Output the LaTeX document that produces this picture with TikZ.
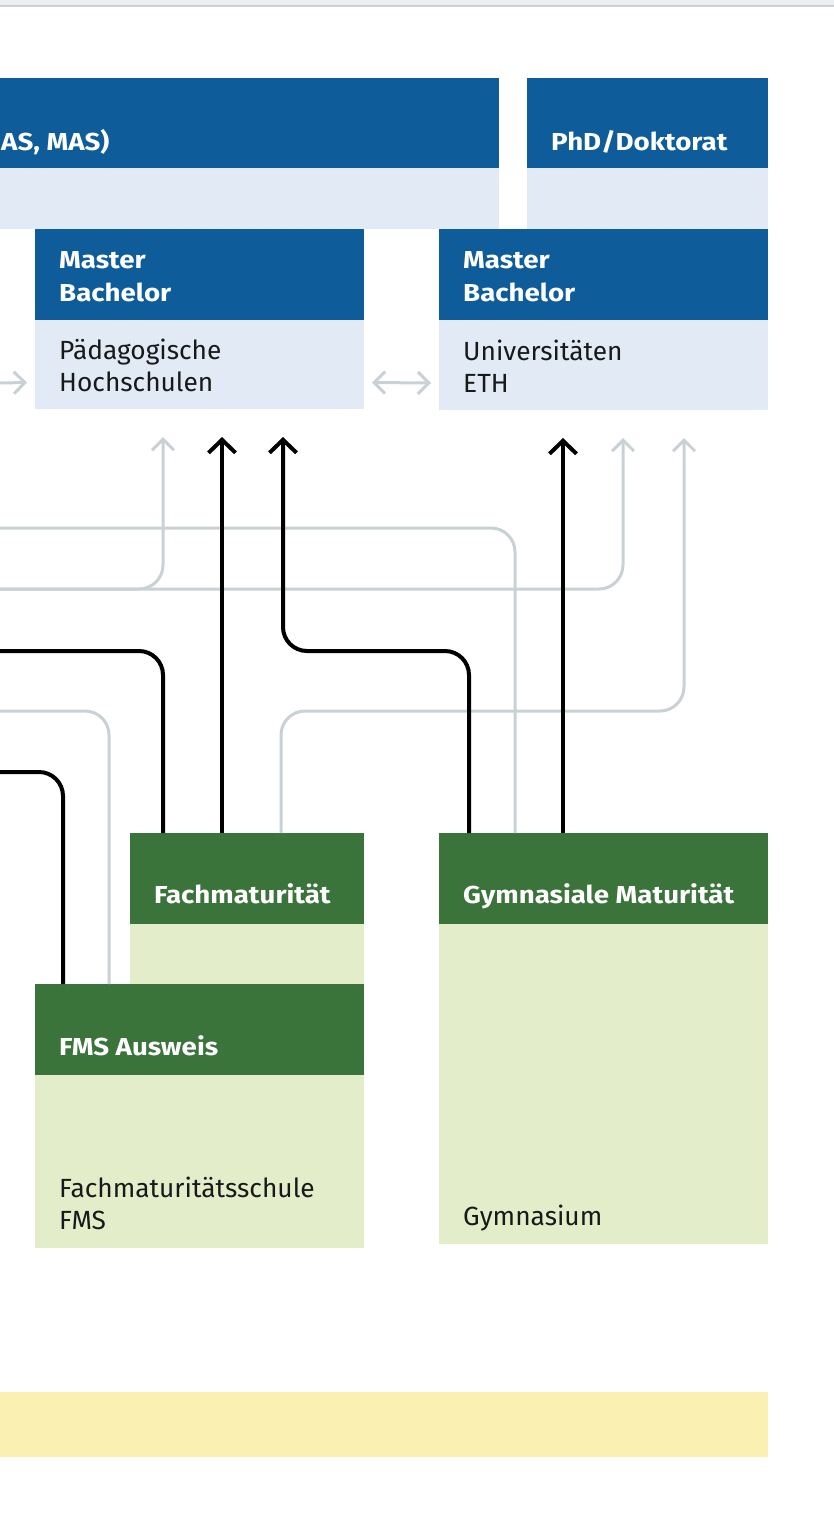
\documentclass[tikz,border=0pt]{standalone}
\usepackage{fontspec}
\setmainfont{Fira Sans}
\newfontfamily\headfont{Fira Sans}[FakeStretch=1.13]
\definecolor{edBlue}{HTML}{0F5C9A}
\definecolor{edBlueLight}{HTML}{E1EAF5}
\definecolor{edGreen}{HTML}{3A743B}
\definecolor{edGreenLight}{HTML}{E4EDCA}
\definecolor{edYellow}{HTML}{FAF0B1}
\definecolor{edGrey}{HTML}{C9D1D5}
\definecolor{edStrip}{HTML}{EAEEF0}
\usetikzlibrary{calc,positioning,arrows.meta}

\begin{document}
\begin{tikzpicture}[x=1pt, y=-1pt,
    box/.style={inner sep=0pt, outer sep=0pt, anchor=north west},
    bluehead/.style={box, fill=edBlue, minimum height=91},
    bluebody/.style={box, fill=edBlueLight},
    greenhead/.style={box, fill=edGreen, minimum height=91},
    greenbody/.style={box, fill=edGreenLight},
    headtext/.style={anchor=base west, inner sep=0pt, text=white, font=\headfont\fontsize{24.5}{32.5}\selectfont\bfseries, align=left},
    bodytext/.style={anchor=base west, inner sep=0pt, text=black!90, font=\fontsize{26.3}{32}\selectfont, align=left},
    mainline/.style={line width=4pt, rounded corners=24pt},
    mainarrow/.style={mainline, -{Straight Barb[length=13pt, width=27pt]}},
    sideline/.style={line width=3pt, edGrey, rounded corners=24pt},
    sidearrow/.style={sideline, -{Straight Barb[length=11pt, width=22pt]}}]
  \useasboundingbox (0,0) rectangle (834,1519);
  % strip at the top edge
  \fill[edStrip] (0,0) rectangle (834,5);
  \draw[edGrey, line width=2pt] (0,6) -- (834,6);

  % tertiary level
  \node[bluehead, minimum width=499, minimum height=90] (cpdHead) at (0,78) {};
  \node[bluebody, minimum width=499, minimum height=61] (cpdBody) at (0,168) {};
  \node[headtext] (cpdTitle) at (1,150) {AS, MAS)};
  \node[bluehead, minimum width=241, minimum height=90] (phdHead) at (527,78) {};
  \node[bluebody, minimum width=241, minimum height=61] (phdBody) at (527,168) {};
  \node[headtext] (phdTitle) at (551,150) {PhD/Doktorat};

  \node[bluehead, minimum width=329] (phHead) at (35,229) {};
  \node[bluebody, minimum width=329, minimum height=89] (phBody) at (35,320) {};
  \node[headtext] (phTitle) at (59,301) {Master\\Bachelor};
  \node[bodytext] (phText) at (59,391) {Pädagogische\\Hochschulen};

  \node[bluehead, minimum width=329] (uniHead) at (439,229) {};
  \node[bluebody, minimum width=329, minimum height=90] (uniBody) at (439,320) {};
  \node[headtext] (uniTitle) at (463,301) {Master\\Bachelor};
  \node[bodytext] (uniText) at (463,392) {Universitäten\\ETH};

  % secondary level
  \node[greenhead, minimum width=234] (fachHead) at (130,833) {};
  \node[greenbody, minimum width=234, minimum height=60] (fachBody) at (130,924) {};
  \node[headtext] (fachTitle) at (154,903) {Fachmaturität};

  \node[greenhead, minimum width=329] (fmsHead) at (35,984) {};
  \node[greenbody, minimum width=329, minimum height=173] (fmsBody) at (35,1075) {};
  \node[headtext] (fmsTitle) at (59,1055) {FMS Ausweis};
  \node[bodytext] (fmsText) at (59,1229) {Fachmaturitätsschule\\FMS};

  \node[greenhead, minimum width=329] (gymHead) at (439,833) {};
  \node[greenbody, minimum width=329, minimum height=320] (gymBody) at (439,924) {};
  \node[headtext] (gymTitle) at (463,903) {Gymnasiale Maturität};
  \node[bodytext] (gymText) at (463,1225) {Gymnasium};

  % band at the bottom
  \node[box, fill=edYellow, minimum width=768, minimum height=65] (baseBand) at (0,1392) {};

  % free ends at the left edge
  \coordinate (edgeA) at (0,651);
  \coordinate (edgeB) at (0,772);
  \coordinate (edgeC) at (0,528);
  \coordinate (edgeD) at (0,589);
  \coordinate (edgeE) at (0,711);
  \coordinate (edgeF) at (0,383);

  % grey connectors
  \draw[sidearrow] (edgeF) -- ([yshift=-18pt, xshift=-8pt]phBody.west);
  \draw[sidearrow, {Straight Barb[length=11pt, width=22pt]}-{Straight Barb[length=11pt, width=22pt]}]
    ([yshift=-18pt, xshift=8pt]phBody.east) -- ([yshift=-18pt, xshift=-8pt]uniBody.west);
  \draw[sideline] (edgeC) -| ([xshift=76pt]gymHead.north west);
  \draw[sidearrow] (edgeD) -| ([xshift=128pt, yshift=-28pt]phBody.south west);
  \draw[sidearrow] (edgeD) -| ([xshift=184pt, yshift=-28pt]uniBody.south west);
  \draw[sideline] (edgeE) -| ([xshift=74pt]fmsHead.north west);
  \draw[sidearrow] ([xshift=151pt]fachHead.north west) -- ++(0,-122)
    -| ([xshift=245pt, yshift=-28pt]uniBody.south west);

  % black connectors
  \draw[mainline] ([xshift=33pt]fachHead.north west) |- (edgeA);
  \draw[mainarrow] ([xshift=92pt]fachHead.north west) -- ([xshift=187pt, yshift=-28pt]phBody.south west);
  \draw[mainarrow] ([xshift=30pt]gymHead.north west) -- ++(0,-182)
    -| ([xshift=248pt, yshift=-28pt]phBody.south west);
  \draw[mainarrow] ([xshift=124pt]gymHead.north west) -- ([xshift=124pt, yshift=-28pt]uniBody.south west);
  \draw[mainline] ([xshift=28pt]fmsHead.north west) |- (edgeB);
\end{tikzpicture}
\end{document}
